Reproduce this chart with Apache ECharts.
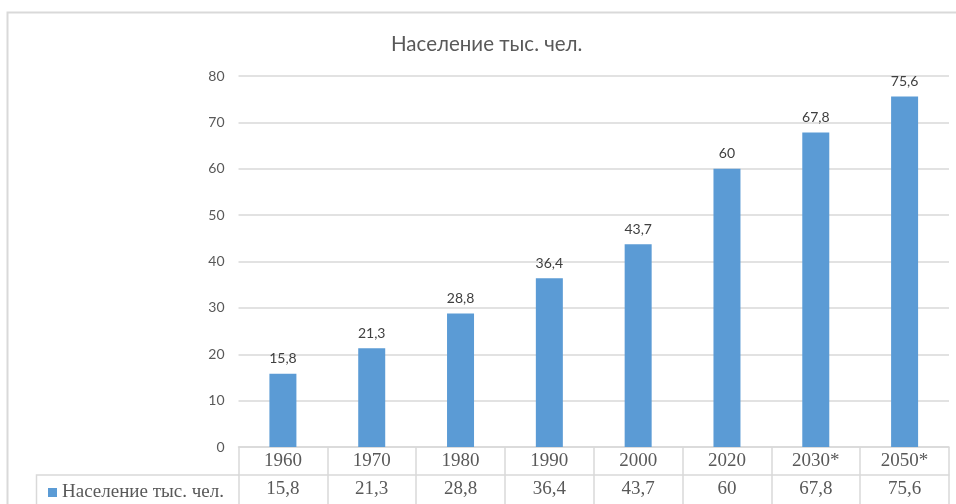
<!DOCTYPE html>
<html>
<head>
<meta charset="utf-8">
<script src="https://cdn.jsdelivr.net/npm/echarts@6/dist/echarts.min.js"></script>
<style>
  html, body { margin: 0; padding: 0; background: #fff; }
  #chart { width: 956px; height: 504px; }
</style>
</head>
<body>
<div id="chart"></div>
<script>
// данные диаграммы
var years = ["1960", "1970", "1980", "1990", "2000", "2020", "2030*", "2050*"];
var population = [15.8, 21.3, 28.8, 36.4, 43.7, 60, 67.8, 75.6];
var yTicks = [0, 10, 20, 30, 40, 50, 60, 70, 80];
var seriesName = "Население тыс. чел.";

function comma(v) {
  return String(v).replace(".", ",");
}

var chart = echarts.init(document.getElementById("chart"));

var gridColor = "#d9d9d9";
var textColor = "#595959";
var serif = "Liberation Serif";

chart.setOption({
  animation: false,
  backgroundColor: "#fff",
  title: {
    text: seriesName,
    left: 386,
    top: 29,
    textStyle: { fontFamily: "Lato", fontSize: 20.5, fontWeight: "normal", color: textColor }
  },
  legend: {
    left: 43,
    top: 478,
    icon: "rect",
    itemWidth: 9,
    itemHeight: 9,
    textStyle: { fontFamily: serif, fontSize: 19, color: textColor },
    data: [seriesName]
  },
  grid: { left: 238.5, right: 7, top: 76, bottom: 57 },
  xAxis: [
    {
      type: "category",
      data: years,
      position: "bottom",
      boundaryGap: true,
      axisLine: { show: true, lineStyle: { color: gridColor, width: 1.5 } },
      axisTick: { show: true, length: 57, interval: 0, lineStyle: { color: gridColor, width: 1.5 } },
      axisLabel: {
        interval: 0,
        margin: 0,
        lineHeight: 28,
        height: 28,
        verticalAlign: "top",
        fontFamily: serif,
        fontSize: 19,
        color: textColor
      }
    },
    {
      type: "category",
      data: years,
      position: "bottom",
      offset: 28,
      boundaryGap: true,
      axisLine: { show: true, lineStyle: { color: gridColor, width: 1.5 } },
      axisTick: { show: false },
      axisLabel: {
        interval: 0,
        margin: 0,
        lineHeight: 28,
        height: 28,
        verticalAlign: "top",
        fontFamily: serif,
        fontSize: 19,
        color: textColor,
        formatter: function (v, i) { return comma(population[i]); }
      }
    }
  ],
  yAxis: {
    type: "value",
    min: yTicks[0],
    max: yTicks[yTicks.length - 1],
    interval: 10,
    axisLine: { show: false },
    axisTick: { show: false },
    splitLine: { lineStyle: { color: gridColor, width: 1.5 } },
    axisLabel: { margin: 14, fontFamily: "Lato", fontSize: 14, color: textColor }
  },
  series: [
    {
      name: seriesName,
      type: "bar",
      barWidth: 27,
      data: population,
      itemStyle: { color: "#5b9bd5" },
      label: {
        show: true,
        position: "top",
        distance: 8,
        fontFamily: "Lato",
        fontSize: 14,
        color: "#404040",
        formatter: function (p) { return comma(p.value); }
      }
    }
  ],
  graphic: [
    {
      type: "polyline",
      silent: true,
      shape: { points: [[7.5, 504], [7.5, 12.5], [956, 12.5]] },
      style: { stroke: gridColor, lineWidth: 2, fill: null }
    },
    {
      type: "polyline",
      silent: true,
      shape: { points: [[36.5, 504], [36.5, 475], [239, 475]] },
      style: { stroke: gridColor, lineWidth: 1.5, fill: null }
    }
  ]
});
</script>
</body>
</html>
